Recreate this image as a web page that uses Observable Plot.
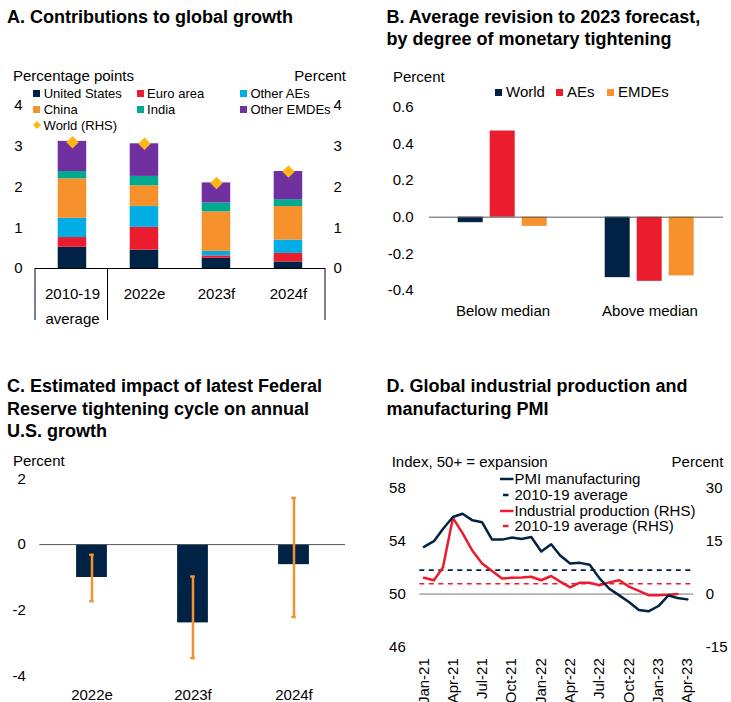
<!DOCTYPE html>
<html>
<head>
<meta charset="utf-8">
<script src="https://cdn.jsdelivr.net/npm/d3@7"></script>
<script src="https://cdn.jsdelivr.net/npm/@observablehq/plot@0.6"></script>
<style>
body{margin:0;background:#fff;}
#root{position:relative;width:731px;height:702px;font-family:"Liberation Sans",Arial,sans-serif;color:#000;overflow:hidden;background:#fff}
.abs{position:absolute;white-space:nowrap}
.title{font-weight:bold;font-size:18px;line-height:22.5px}
.t15{font-size:15px;line-height:17px}
.t13{font-size:13px;line-height:15px}
.sw{display:inline-block;vertical-align:middle;position:relative;top:-1px}
svg.plot{position:absolute;overflow:visible}
</style>
</head>
<body>
<div id="root"></div>
<script>
// ---------- Panel A data ----------
const catsA = ["2010-19 average", "2022e", "2023f", "2024f"];
const seriesA = ["United States", "Euro area", "Other AEs", "China", "India", "Other EMDEs"];
const colorsA = ["#002345", "#EB1C2D", "#00ADE4", "#F7912C", "#00A98F", "#7030A0"];
const usA = [0.52, 0.45, 0.25, 0.16];
const euroA = [0.24, 0.56, 0.06, 0.21];
const otherAEsA = [0.47, 0.51, 0.11, 0.33];
const chinaA = [0.97, 0.51, 0.97, 0.82];
const indiaA = [0.18, 0.23, 0.22, 0.17];
const otherEMDEsA = [0.74, 0.80, 0.49, 0.69];
const worldA = [3.1, 3.06, 2.1, 2.38];
const ticksA = [0, 1, 2, 3, 4];

// ---------- Panel B data ----------
const groupsB = ["Below median", "Above median"];
const seriesB = ["World", "AEs", "EMDEs"];
const colorsB = ["#002345", "#EB1C2D", "#F7912C"];
const worldB = [-0.03, -0.33];
const aesB = [0.47, -0.35];
const emdesB = [-0.05, -0.32];
const ticksB = [-0.4, -0.2, 0, 0.2, 0.4, 0.6];

// ---------- Panel C data ----------
const catsC = ["2022e", "2023f", "2024f"];
const impactC = [-1.0, -2.38, -0.61];
const lowC = [-1.72, -3.45, -2.2];
const highC = [-0.31, -0.97, 1.42];
const ticksC = [-4, -2, 0, 2];

// ---------- Panel D data ----------
const monthsD = ["2021-01","2021-02","2021-03","2021-04","2021-05","2021-06","2021-07","2021-08","2021-09","2021-10","2021-11","2021-12",
                 "2022-01","2022-02","2022-03","2022-04","2022-05","2022-06","2022-07","2022-08","2022-09","2022-10","2022-11","2022-12",
                 "2023-01","2023-02","2023-03","2023-04"];
const pmiD = [53.55, 53.98, 54.9, 55.8, 56.05, 55.55, 55.4, 54.1, 54.1, 54.25, 54.15, 54.3,
              53.2, 53.75, 52.9, 52.3, 52.35, 52.2, 51.2, 50.4, 49.9, 49.4, 48.8, 48.7,
              49.1, 49.9, 49.7, 49.6];
const ipD = [4.6, 3.9, 7.5, 21.5, 17.2, 12.2, 8.6, 6.5, 4.4, 4.6, 4.7, 4.9,
             3.9, 5.1, 3.5, 1.9, 3.2, 3.2, 2.5, 3.3, 3.9, 2.1, 0.9, -0.3,
             -0.3, -0.2, 0.0];
const pmiAvgD = 51.8;
const ipAvgD = 2.9;
const ticksLeftD = [46, 50, 54, 58];
const ticksRightD = [-15, 0, 15, 30];
const tickMonthsD = ["2021-01","2021-04","2021-07","2021-10","2022-01","2022-04","2022-07","2022-10","2023-01","2023-04"];

const FONT = '"Liberation Sans", Arial, sans-serif';
const root = document.getElementById("root");
const NAVY = "#002345", RED = "#EB1C2D", ORANGE = "#F7912C", GOLD = "#FDB714";

function addText(html, left, centerY, cls, opts = {}) {
  const d = document.createElement("div");
  d.className = "abs " + cls;
  d.innerHTML = html;
  const off = cls === "t13" ? 7.4 : 8.3;
  d.style.top = (centerY - off) + "px";
  if (opts.right !== undefined) d.style.right = (731 - opts.right) + "px";
  else d.style.left = left + "px";
  root.appendChild(d);
  return d;
}
function addTitle(html, left, top) {
  const d = document.createElement("div");
  d.className = "abs title";
  d.innerHTML = html;
  d.style.left = left + "px";
  d.style.top = top + "px";
  root.appendChild(d);
}
function place(svg, left, top) {
  svg.classList.add("plot");
  svg.style.left = left + "px";
  svg.style.top = top + "px";
  root.appendChild(svg);
}
const sq = (c, s) => `<span class="sw" style="width:${s}px;height:${s}px;background:${c};margin-right:${s === 7 ? 3.4 : 4}px"></span>`;

// ================= Panel A =================
addTitle("A. Contributions to global growth", 7, 5.5);
const valsA = [usA, euroA, otherAEsA, chinaA, indiaA, otherEMDEsA];
const dataA = catsA.flatMap((c, i) => seriesA.map((s, j) => ({cat: c, series: s, value: valsA[j][i]})));
const worldDataA = catsA.map((c, i) => ({cat: c, value: worldA[i]}));
const plotA = Plot.plot({
  width: 360, height: 270, marginTop: 45, marginBottom: 62, marginLeft: 35, marginRight: 35,
  style: {fontFamily: FONT, fontSize: "15px", background: "transparent", color: "#000"},
  x: {domain: catsA, padding: 0, axis: null},
  y: {domain: [0, 4], axis: null},
  color: {domain: seriesA, range: colorsA},
  marks: [
    Plot.barY(dataA, {x: "cat", y: "value", fill: "series", insetLeft: 21.7, insetRight: 21.8}),
    Plot.ruleY([0], {stroke: "#000", strokeWidth: 1}),
    Plot.dot(worldDataA, {x: "cat", y: "value", symbol: "diamond2", r: 5.6, fill: GOLD}),
    Plot.axisY(ticksA, {anchor: "left", label: null, tickSize: 0, tickPadding: 13, tickFormat: d => String(d)}),
    Plot.axisY(ticksA, {anchor: "right", label: null, tickSize: 0, tickPadding: 8, tickFormat: d => String(d)}),
    Plot.axisX({label: null, tickSize: 0, tickPadding: 13, lineHeight: 1.67, tickFormat: d => d.replace(" ", "\n")})
  ]
});
{
  const sx = plotA.scale("x"), sy = plotA.scale("y");
  const [r0, r1] = sx.range;
  const step = (r1 - r0) / sx.domain.length;
  const yb = sy.range[0];
  const xs = [r0, r0 + step, r1];
  d3.select(plotA).append("g").selectAll("line").data(xs).join("line")
    .attr("x1", d => d).attr("x2", d => d).attr("y1", yb).attr("y2", yb + 52)
    .attr("stroke", "#000").attr("stroke-width", 1);
}
place(plotA, 0, 60);
addText("Percentage points", 13, 75.7, "t15");
addText("Percent", 0, 75.7, "t15", {right: 346});
const colX = [33.3, 136.7, 240];
seriesA.forEach((s, j) => {
  const col = j % 3, row = Math.floor(j / 3);
  addText(sq(colorsA[j], 7) + s, colX[col], 93.3 + row * 15.9, "t13");
});
addText(`<svg class="sw" width="8" height="8" style="margin-right:2.6px;overflow:visible"><path d="M4,0L8,4L4,8L0,4Z" fill="${GOLD}"/></svg>World (RHS)`, 33, 125, "t13");

// ================= Panel B =================
addTitle("B. Average revision to 2023 forecast,<br>by degree of monetary tightening", 386.5, 5.5);
const valsB = [worldB, aesB, emdesB];
const dataB = groupsB.flatMap((g, i) => seriesB.map((s, j) => ({group: g, series: s, value: valsB[j][i]})));
const plotB = Plot.plot({
  width: 351, height: 270, marginTop: 46.7, marginBottom: 40, marginLeft: 49.3, marginRight: 7.7,
  style: {fontFamily: FONT, fontSize: "15px", background: "transparent", color: "#000"},
  fx: {domain: groupsB, padding: 0, axis: "bottom", tickSize: 0, tickPadding: 15, label: null},
  x: {domain: seriesB, paddingInner: 0.215, paddingOuter: 0.869, axis: null},
  y: {domain: [-0.4, 0.6], axis: null},
  color: {domain: seriesB, range: colorsB},
  marks: [
    Plot.barY(dataB, {fx: "group", x: "series", y: "value", fill: "series"}),
    Plot.ruleY([0], {stroke: "#555", strokeWidth: 1}),
    Plot.axisY(ticksB, {anchor: "left", label: null, tickSize: 0, tickPadding: 16, tickFormat: d => d.toFixed(1)})
  ]
});
place(plotB, 380, 60);
addText("Percent", 393, 76, "t15");
addText(sq(colorsB[0], 7.5) + "World", 494.5, 91.7, "t15");
addText(sq(colorsB[1], 7.5) + "AEs", 555.5, 91.7, "t15");
addText(sq(colorsB[2], 7.5) + "EMDEs", 606.5, 91.7, "t15");

// ================= Panel C =================
addTitle("C. Estimated impact of latest Federal<br>Reserve tightening cycle on annual<br>U.S. growth", 7, 375);
const dataC = catsC.map((c, i) => ({cat: c, value: impactC[i], lo: lowC[i], hi: highC[i]}));
const plotC = Plot.plot({
  width: 360, height: 247, marginTop: 23.3, marginBottom: 26.3, marginLeft: 39.3, marginRight: 15,
  style: {fontFamily: FONT, fontSize: "15px", background: "transparent", color: "#000"},
  x: {domain: catsC, padding: 0, axis: null},
  y: {domain: [-4, 2], axis: null},
  marks: [
    Plot.barY(dataC, {x: "cat", y: "value", fill: NAVY, insetLeft: 35.1, insetRight: 35.1}),
    Plot.ruleY([0], {stroke: "#555", strokeWidth: 1}),
    Plot.ruleX(dataC, {x: "cat", y1: "lo", y2: "hi", stroke: ORANGE, strokeWidth: 2.5}),
    Plot.tickY(dataC, {x: "cat", y: "lo", stroke: ORANGE, strokeWidth: 2.5, insetLeft: 48.2, insetRight: 48.2}),
    Plot.tickY(dataC, {x: "cat", y: "hi", stroke: ORANGE, strokeWidth: 2.5, insetLeft: 48.2, insetRight: 48.2}),
    Plot.axisY(ticksC, {anchor: "left", label: null, tickSize: 0, tickPadding: 14, tickFormat: d => String(d)}),
    Plot.axisX({label: null, tickSize: 0, tickPadding: 13})
  ]
});
place(plotC, 0, 455);
addText("Percent", 13, 460, "t15");

// ================= Panel D =================
addTitle("D. Global industrial production and<br>manufacturing PMI", 386.5, 375);
const parseM = d3.utcParse("%Y-%m");
const toLeft = v => 50 + v / 3.75;
const pmiData = monthsD.map((m, i) => ({date: parseM(m), v: pmiD[i]}));
const ipData = ipD.map((v, i) => ({date: parseM(monthsD[i]), v}));
const startD = d3.utcDay.offset(parseM(monthsD[0]), -12.5);
const endD = d3.utcDay.offset(parseM(monthsD[monthsD.length - 1]), 20.6);
const plotD = Plot.plot({
  width: 351, height: 252, marginTop: 37.3, marginBottom: 55.3, marginLeft: 39.3, marginRight: 37.7,
  style: {fontFamily: FONT, fontSize: "15px", background: "transparent", color: "#000"},
  x: {type: "utc", domain: [startD, endD], axis: null},
  y: {domain: [46, 58], axis: null},
  marks: [
    Plot.ruleY([50], {stroke: "#777", strokeWidth: 1}),
    Plot.ruleY([pmiAvgD], {stroke: NAVY, strokeWidth: 1.6, strokeDasharray: "5,4.5"}),
    Plot.ruleY([ipAvgD], {y: d => toLeft(d), stroke: RED, strokeWidth: 1.6, strokeDasharray: "5,4.5"}),
    Plot.lineY(ipData, {x: "date", y: d => toLeft(d.v), stroke: RED, strokeWidth: 2.5}),
    Plot.lineY(pmiData, {x: "date", y: "v", stroke: NAVY, strokeWidth: 2.5}),
    Plot.axisY(ticksLeftD, {anchor: "left", label: null, tickSize: 0, tickPadding: 14, tickFormat: d => String(d)}),
    Plot.axisY(ticksRightD.map(toLeft), {anchor: "right", label: null, tickSize: 0, tickPadding: 12, tickFormat: (d, i) => String(ticksRightD[i])}),
    Plot.axisX(tickMonthsD.map(parseM), {label: null, tickSize: 0, tickPadding: 11, tickRotate: -90, tickFormat: d3.utcFormat("%b-%y")})
  ]
});
place(plotD, 380, 450);
addText("Index, 50+ = expansion", 391.7, 461.7, "t15");
addText("Percent", 0, 461.7, "t15", {right: 723.3});
const lineSw = (c, dash) => `<svg class="sw" width="14" height="4" style="margin-right:0.5px;overflow:visible"><line x1="${dash ? 3 : 0}" x2="${dash ? 8.5 : 13.5}" y1="2" y2="2" stroke="${c}" stroke-width="2.5"/></svg>`;
addText(lineSw(NAVY, false) + "PMI manufacturing", 500, 478.3, "t15");
addText(lineSw(NAVY, true) + "2010-19 average", 500, 494, "t15");
addText(lineSw(RED, false) + "Industrial production (RHS)", 500, 510, "t15");
addText(lineSw(RED, true) + "2010-19 average (RHS)", 500, 525.5, "t15");
</script>
</body>
</html>
